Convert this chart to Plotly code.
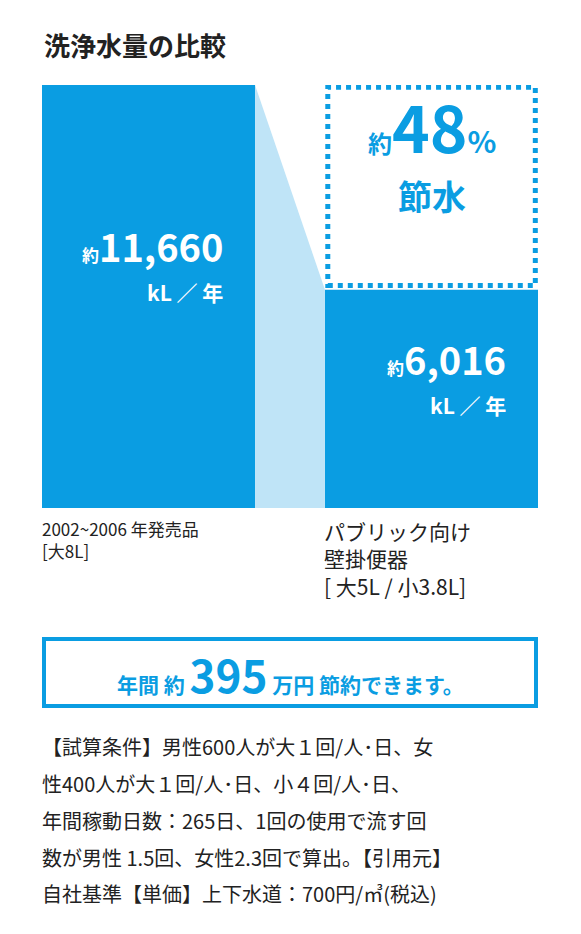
import plotly.graph_objects as go

categories = ["2002~2006 年発売品<br>[大8L]", "パブリック向け<br>壁掛便器<br>[ 大5L / 小3.8L]"]
values = [11660, 6016]
value_labels = ["約11,660", "約6,016"]
saving_pct = 48
saving_yen = 395
notes = ["【試算条件】男性600人が大１回/人･日、女",
         "性400人が大１回/人･日、小４回/人･日、",
         "年間稼動日数：265日、1回の使用で流す回",
         "数が男性 1.5回、女性2.3回で算出。【引用元】",
         "自社基準【単価】上下水道：700円/㎥(税込)"]

W, H = 581, 934
O = 8  # page body margin compensation
BLUE = "#0a9de2"
LIGHT = "#bfe4f7"
FONT = "Noto Sans CJK JP"
w = 0.753
xs = [0, 1]

def px(x):
    return (x - O) / W

def py(y):
    return 1 - (y - O) / H

fig = go.Figure()
fig.add_trace(go.Scatter(
    x=[xs[0] + w/2, xs[1] - w/2, xs[1] - w/2, xs[0] + w/2],
    y=[values[0], values[1], 0, 0], fill="toself", fillcolor=LIGHT,
    line=dict(width=0), mode="lines", hoverinfo="skip"))
fig.add_trace(go.Bar(x=xs, y=values, width=w, marker=dict(color=BLUE, line=dict(width=0))))

fig.add_shape(type="rect", xref="x", yref="y", x0=xs[1] - w/2 + 0.01, x1=xs[1] + w/2 - 0.01,
              y0=values[1] + 120, y1=values[0] - 60,
              line=dict(color=BLUE, width=5, dash="dot"))

lab_y = [values[0] * 0.55, values[1] * 0.55]
for i in range(2):
    fig.add_annotation(x=xs[i] + 0.27, y=lab_y[i], xref="x", yref="y", xanchor="right", yanchor="bottom",
                       text=f"<b><span style='font-size:17px'>{value_labels[i][0]}</span>{value_labels[i][1:]}</b>",
                       font=dict(size=38, color="white", family=FONT), showarrow=False)
    fig.add_annotation(x=xs[i] + 0.27, y=lab_y[i], xref="x", yref="y", xanchor="right", yanchor="top",
                       text="<b>kL ／ 年</b>", font=dict(size=21, color="white", family=FONT), showarrow=False)
lab_x = [40, 322]
for i in range(2):
    fig.add_annotation(x=px(lab_x[i]), y=py(514), xref="paper", yref="paper", xanchor="left", yanchor="top",
                       text=categories[i], align="left",
                       font=dict(size=17 if i == 0 else 21, color="#222", family=FONT), showarrow=False)

mid = (values[0] + values[1]) / 2
fig.add_annotation(x=xs[1], y=mid + 400, xref="x", yref="y", yanchor="bottom",
                   text=f"<b><span style='font-size:24px'>約</span>{saving_pct}<span style='font-size:30px'>%</span></b>",
                   font=dict(size=64, color=BLUE, family=FONT), showarrow=False)
fig.add_annotation(x=xs[1], y=mid + 400, xref="x", yref="y", yanchor="top", yshift=4,
                   text="<b>節水</b>", font=dict(size=34, color=BLUE, family=FONT), showarrow=False)

fig.add_shape(type="rect", xref="paper", yref="paper", x0=px(44), x1=px(536), y0=py(706), y1=py(639),
              line=dict(color=BLUE, width=4))
fig.add_annotation(x=px(290), y=py(674), xref="paper", yref="paper", yanchor="middle",
                   text=f"<b>年間 約 <span style='font-size:44px'>{saving_yen}</span> 万円 節約できます。</b>",
                   font=dict(size=21, color=BLUE, family=FONT), showarrow=False)

fig.add_annotation(x=px(42), y=py(45), xref="paper", yref="paper", xanchor="left", yanchor="middle",
                   text="<b>洗浄水量の比較</b>", font=dict(size=26, color="#222", family=FONT), showarrow=False)
note_y = [746, 783, 820, 857, 893]
for i, t in enumerate(notes):
    fig.add_annotation(x=px(40), y=py(note_y[i]), xref="paper", yref="paper", xanchor="left", yanchor="middle",
                       text=t, font=dict(size=20, color="#222", family=FONT), showarrow=False)

fig.update_layout(width=W, height=H, margin=dict(l=0, r=0, t=0, b=0), showlegend=False,
                  paper_bgcolor="white", plot_bgcolor="white",
                  xaxis=dict(domain=[px(42), px(538)], range=[-0.376, 1.376], visible=False, fixedrange=True),
                  yaxis=dict(domain=[py(508), py(85)], range=[0, values[0]], visible=False, fixedrange=True))
fig.write_html("out.html")
